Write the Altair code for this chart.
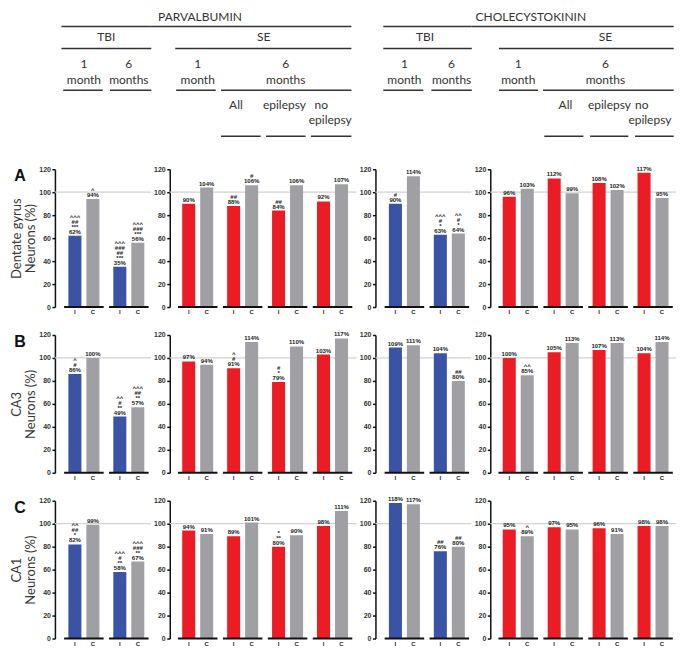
import altair as alt
import pandas as pd

# ---------------- data ----------------
REGIONS = [["Dentate gyrus", "Neurons (%)"], ["CA3", "Neurons (%)"], ["CA1", "Neurons (%)"]]
ROW_LETTERS = ["A", "B", "C"]
TBI_GROUPS = ["1 month", "6 months"]
SE_GROUPS = ["1 month", "All", "epilepsy", "no epilepsy"]
Y_TICKS = [0, 20, 40, 60, 80, 100, 120]
REF_LEVEL = [100]

# values: one list per region row (DG, CA3, CA1)
PV_TBI_I = [[62, 35], [86, 49], [82, 58]]
PV_TBI_C = [[94, 56], [100, 57], [99, 67]]
PV_SE_I = [[90, 88, 84, 92], [97, 91, 79, 103], [94, 89, 80, 98]]
PV_SE_C = [[104, 106, 106, 107], [94, 114, 110, 117], [91, 101, 90, 111]]
CCK_TBI_I = [[90, 63], [109, 104], [118, 76]]
CCK_TBI_C = [[114, 64], [111, 80], [117, 80]]
CCK_SE_I = [[96, 112, 108, 117], [100, 105, 107, 104], [95, 97, 96, 98]]
CCK_SE_C = [[103, 99, 102, 95], [85, 113, 113, 114], [89, 95, 91, 98]]

# significance markers stacked above each bar label (top line first)
PV_TBI_I_SIG = [["^^^\n##\n***", "^^^\n###\n##\n***"], ["^\n#", "^^\n#\n**"], ["^^\n##\n*", "^^^\n#\n**"]]
PV_TBI_C_SIG = [["^", "^^^\n###\n***"], ["", "^^^\n##\n**"], ["", "^^^\n###\n**"]]
PV_SE_I_SIG = [["", "##", "##", ""], ["", "^\n#", "#\n*", ""], ["", "", "*\n**", ""]]
PV_SE_C_SIG = [["", "#", "", ""], ["", "", "", ""], ["", "", "", ""]]
CCK_TBI_I_SIG = [["#", "^^^\n#\n*"], ["", ""], ["", "##"]]
CCK_TBI_C_SIG = [["", "^^\n#\n*"], ["", "##"], ["", "##"]]
CCK_SE_I_SIG = [["", "", "", ""], ["", "", "", ""], ["", "", "", ""]]
CCK_SE_C_SIG = [["", "", "", ""], ["^^", "", "", ""], ["^", "", "", ""]]

# ---------------- style / layout ----------------
BLUE = "#3a53a4"
RED = "#ec1c24"
GRAY = "#a0a0a4"
UNIT = 45.0
H = 138
SP = 19
LINE_PX = 5.0
W_TBI = 96
W_SE = 187
W_SE2 = 186
LEFT_TBI = 29
LEFT_SE = 28

# header rows (pixels relative to top of first row plot)
Y_TOP_T, Y_TOP_L = -152, -143
Y_MID_T, Y_MID_L = -132, -121
Y_NUM, Y_MON, Y_TIME_L = -105, -89, -79
Y_SUB_T, Y_SUB_T2, Y_SUB_L = -64, -49, -33


def make_panel(n, ivals, cvals, isig, csig, icolor, width, left,
               title=None, letter=None, htexts=None, hlines=None):
    dom = [-left / UNIT, (width - left) / UNIT]
    xs = alt.Scale(domain=dom, nice=False, zero=False)
    ys = alt.Scale(domain=[0, 120], nice=False, zero=True)
    yaxis = alt.Axis(values=Y_TICKS, title=title if title else None)
    rows, labs = [], []
    for g in range(n):
        for kind, vals, sigs, col, s in (("I", ivals, isig, icolor, -1),
                                         ("C", cvals, csig, GRAY, 1)):
            rows.append({"kind": kind, "v": vals[g], "col": col,
                         "xa": g + s * 0.055, "xb": g + s * 0.345, "xc": g + s * 0.2})
            lines = (sigs[g].split("\n") if sigs[g] else []) + [f"{vals[g]}%"]
            for k, t in enumerate(reversed(lines)):
                labs.append({"xc": g + s * 0.2, "v": vals[g] + k * LINE_PX * 120 / H, "t": t})
    bars = pd.DataFrame(rows)
    labdf = pd.DataFrame(labs)
    segs = pd.DataFrame({"a": [g - 0.44 for g in range(n)], "b": [g + 0.44 for g in range(n)],
                         "v": [0] * n})

    layers = [
        alt.Chart(pd.DataFrame({"v": REF_LEVEL})).mark_rule(color="#d2d2d2", strokeWidth=1.2)
        .encode(y=alt.Y("v:Q", scale=ys, axis=yaxis), x=alt.value(0), x2=alt.value(width)),
        alt.Chart(bars).mark_bar()
        .encode(x=alt.X("xa:Q", scale=xs, axis=None), x2="xb:Q",
                y=alt.Y("v:Q", scale=ys, axis=yaxis), y2=alt.datum(0),
                color=alt.Color("col:N", scale=None)),
        alt.Chart(segs).mark_rule(color="#111111", strokeWidth=2)
        .encode(x=alt.X("a:Q", scale=xs, axis=None), x2="b:Q",
                y=alt.Y("v:Q", scale=ys, axis=yaxis)),
        alt.Chart(labdf).mark_text(font="Liberation Sans", fontSize=6, fontWeight="bold",
                                   baseline="bottom", dy=-1, color="#222222")
        .encode(x=alt.X("xc:Q", scale=xs, axis=None), y=alt.Y("v:Q", scale=ys, axis=yaxis),
                text="t:N"),
        alt.Chart(bars).mark_text(font="Liberation Sans", fontSize=6, fontWeight="bold",
                                  baseline="middle", color="#222222")
        .encode(x=alt.X("xc:Q", scale=xs, axis=None), y=alt.value(H + 5), text="kind:N"),
    ]
    if letter:
        layers.append(
            alt.Chart(pd.DataFrame({"t": [letter]})).mark_text(
                font="Liberation Sans", fontSize=16, fontWeight="bold", color="#111111")
            .encode(x=alt.value(-35), y=alt.value(7), text="t:N")
        )
    if htexts:
        layers.append(
            alt.Chart(pd.DataFrame(htexts, columns=["t", "hx", "hy"])).mark_text(
                font="Lato", fontSize=12, color="#333333", baseline="middle")
            .encode(x=alt.X("hx:Q", scale=xs, axis=None), y=alt.Y("hy:Q", scale=None), text="t:N")
        )
    if hlines:
        layers.append(
            alt.Chart(pd.DataFrame(hlines, columns=["ha", "hb", "hy"])).mark_rule(
                color="#333333", strokeWidth=1.5)
            .encode(x=alt.X("ha:Q", scale=xs, axis=None), x2="hb:Q", y=alt.Y("hy:Q", scale=None))
        )
    return alt.layer(*layers).properties(width=width, height=H)


def headers():
    d1 = (W_TBI - LEFT_TBI) / UNIT
    p1t = [("TBI", 0.5, Y_MID_T), ("1", 0, Y_NUM), ("month", 0, Y_MON),
           ("6", 1, Y_NUM), ("months", 1, Y_MON)]
    p1l = [(-0.5, d1, Y_TOP_L), (-0.5, 1.5, Y_MID_L), (-0.46, 0.42, Y_TIME_L), (0.58, 1.5, Y_TIME_L)]
    l2 = -LEFT_SE / UNIT - SP / UNIT
    p2t = [("PARVALBUMIN", 0.05, Y_TOP_T), ("SE", 1.47, Y_MID_T),
           ("1", 0, Y_NUM), ("month", 0, Y_MON), ("6", 1.96, Y_NUM), ("months", 1.96, Y_MON),
           ("All", 0.85, Y_SUB_T), ("epilepsy", 1.93, Y_SUB_T), ("no", 2.75, Y_SUB_T),
           ("epilepsy", 2.95, Y_SUB_T2)]
    p2l = [(l2, 3.42, Y_TOP_L), (-0.5, 3.42, Y_MID_L), (-0.48, 0.4, Y_TIME_L), (0.52, 3.42, Y_TIME_L),
           (0.52, 1.4, Y_SUB_L), (1.52, 2.4, Y_SUB_L), (2.52, 3.42, Y_SUB_L)]
    p3t = [("TBI", 0.46, Y_MID_T), ("1", 0, Y_NUM), ("month", 0, Y_MON),
           ("6", 1.05, Y_NUM), ("months", 1.05, Y_MON)]
    p3l = [(-0.47, d1, Y_TOP_L), (-0.47, 1.5, Y_MID_L), (-0.47, 0.42, Y_TIME_L), (0.6, 1.5, Y_TIME_L)]
    p4t = [("CHOLECYSTOKININ", 0.28, Y_TOP_T), ("SE", 1.94, Y_MID_T),
           ("1", 0, Y_NUM), ("month", 0, Y_MON), ("6", 1.94, Y_NUM), ("months", 1.94, Y_MON),
           ("All", 1.05, Y_SUB_T), ("epilepsy", 2.03, Y_SUB_T), ("no", 2.75, Y_SUB_T),
           ("epilepsy", 2.93, Y_SUB_T2)]
    p4l = [(l2, 3.46, Y_TOP_L), (-0.43, 3.46, Y_MID_L), (-0.43, 0.44, Y_TIME_L), (0.55, 3.46, Y_TIME_L),
           (0.58, 1.45, Y_SUB_L), (1.6, 2.45, Y_SUB_L), (2.6, 3.46, Y_SUB_L)]
    return [(p1t, p1l), (p2t, p2l), (p3t, p3l), (p4t, p4l)]


HDR = headers()
panels = []
for r in range(3):
    hd = HDR if r == 0 else [(None, None)] * 4
    panels.append(make_panel(2, PV_TBI_I[r], PV_TBI_C[r], PV_TBI_I_SIG[r], PV_TBI_C_SIG[r], BLUE,
                             W_TBI, LEFT_TBI, title=REGIONS[r], letter=ROW_LETTERS[r],
                             htexts=hd[0][0], hlines=hd[0][1]))
    panels.append(make_panel(4, PV_SE_I[r], PV_SE_C[r], PV_SE_I_SIG[r], PV_SE_C_SIG[r], RED,
                             W_SE, LEFT_SE, htexts=hd[1][0], hlines=hd[1][1]))
    panels.append(make_panel(2, CCK_TBI_I[r], CCK_TBI_C[r], CCK_TBI_I_SIG[r], CCK_TBI_C_SIG[r], BLUE,
                             W_TBI, LEFT_TBI, htexts=hd[2][0], hlines=hd[2][1]))
    panels.append(make_panel(4, CCK_SE_I[r], CCK_SE_C[r], CCK_SE_I_SIG[r], CCK_SE_C_SIG[r], RED,
                             W_SE2, LEFT_SE, htexts=hd[3][0], hlines=hd[3][1]))

chart = alt.concat(*panels, columns=4, spacing=alt.RowColnumber(row=28, column=SP),
                   bounds="flush").properties(
    padding={"left": 2, "top": 3, "right": 0, "bottom": 0})
chart = chart.configure_view(stroke=None).configure_axis(
    grid=False, domainColor="#111111", domainWidth=1.5, tickColor="#111111", tickWidth=1.5,
    tickSize=3, labelFont="Liberation Sans", labelFontSize=7, labelFontWeight="bold",
    labelColor="#333333", labelPadding=1.5, titleFont="Lato", titleFontSize=13,
    titleFontWeight="normal", titleColor="#3a3a3a", titleLineHeight=14, titlePadding=1,
)

chart.save("out.html", embed_options={"renderer": "svg", "actions": False})
